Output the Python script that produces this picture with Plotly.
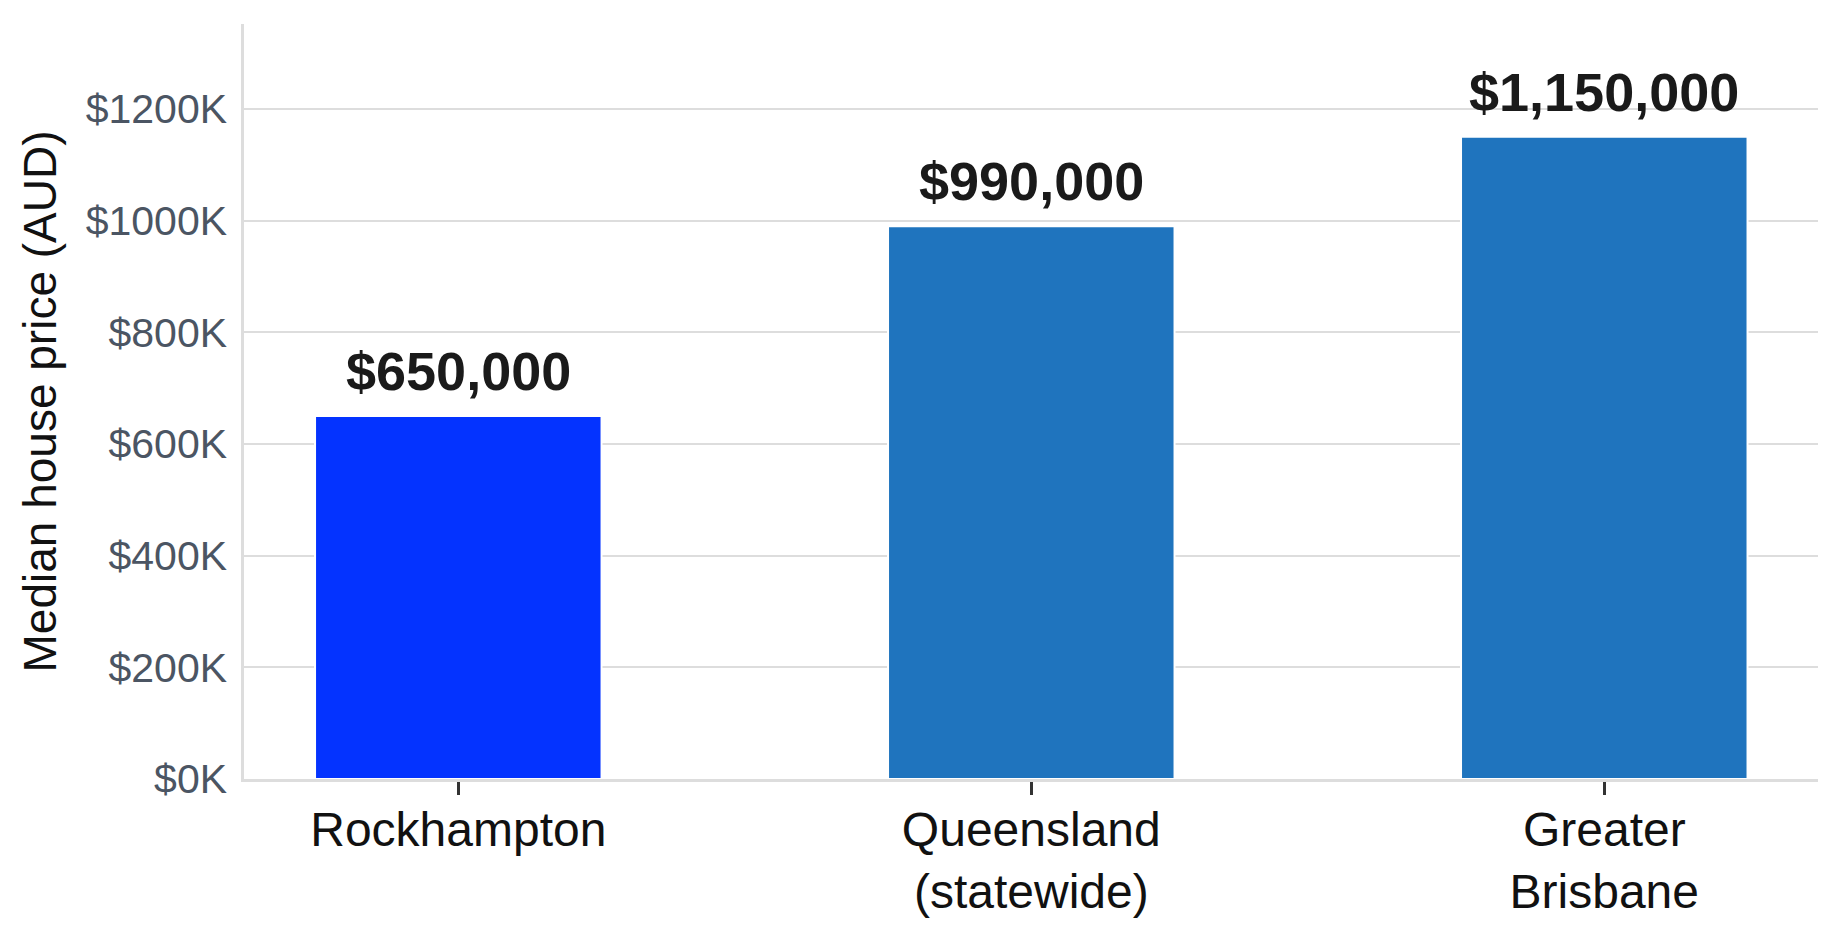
import plotly.graph_objects as go

categories = ["Rockhampton", "Queensland<br>(statewide)", "Greater<br>Brisbane"]
prices = [650000, 990000, 1150000]
bar_labels = ["$650,000", "$990,000", "$1,150,000"]
bar_colors = ["#0433FF", "#1F74BE", "#1F74BE"]
tick_values = [0, 200000, 400000, 600000, 800000, 1000000, 1200000]
tick_labels = ["$0K", "$200K", "$400K", "$600K", "$800K", "$1000K", "$1200K"]

FONT = "Liberation Sans, Arial, sans-serif"

fig = go.Figure()
fig.add_trace(go.Bar(
    x=categories,
    y=prices,
    width=0.5,
    marker=dict(color=bar_colors, line=dict(color="white", width=2)),
    hoverinfo="skip",
))

for cat, val, lab in zip(categories, prices, bar_labels):
    fig.add_annotation(
        x=cat, y=val, text="<b>" + lab + "</b>", showarrow=False,
        yanchor="bottom", yshift=13,
        font=dict(family=FONT, size=54, color="#1a1a1a"),
    )

fig.update_layout(
    width=1827, height=914,
    margin=dict(l=236, r=17, t=16, b=143, autoexpand=False),
    paper_bgcolor="white", plot_bgcolor="white",
    showlegend=False,
    font=dict(family=FONT),
    xaxis=dict(
        range=[-0.374, 2.373],
        showgrid=False,
        showline=True, linecolor="#dddddd", linewidth=3,
        ticks="outside", ticklen=13, tickwidth=2.5, tickcolor="#333333",
        tickfont=dict(family=FONT, size=48, color="#111111"),
        ticklabelstandoff=-7,
        zeroline=False,
    ),
    yaxis=dict(
        range=[0, 1352000],
        tickvals=tick_values, ticktext=tick_labels,
        showgrid=True, gridcolor="#dddddd", gridwidth=2,
        showline=True, linecolor="#dddddd", linewidth=2.5,
        ticks="",
        ticklabelstandoff=6,
        tickfont=dict(family=FONT, size=41, color="#4B5563"),
        zeroline=False,
        title=dict(text="Median house price (AUD)", standoff=15,
                   font=dict(family=FONT, size=46, color="#111111")),
    ),
)

fig.write_html("out.html")
